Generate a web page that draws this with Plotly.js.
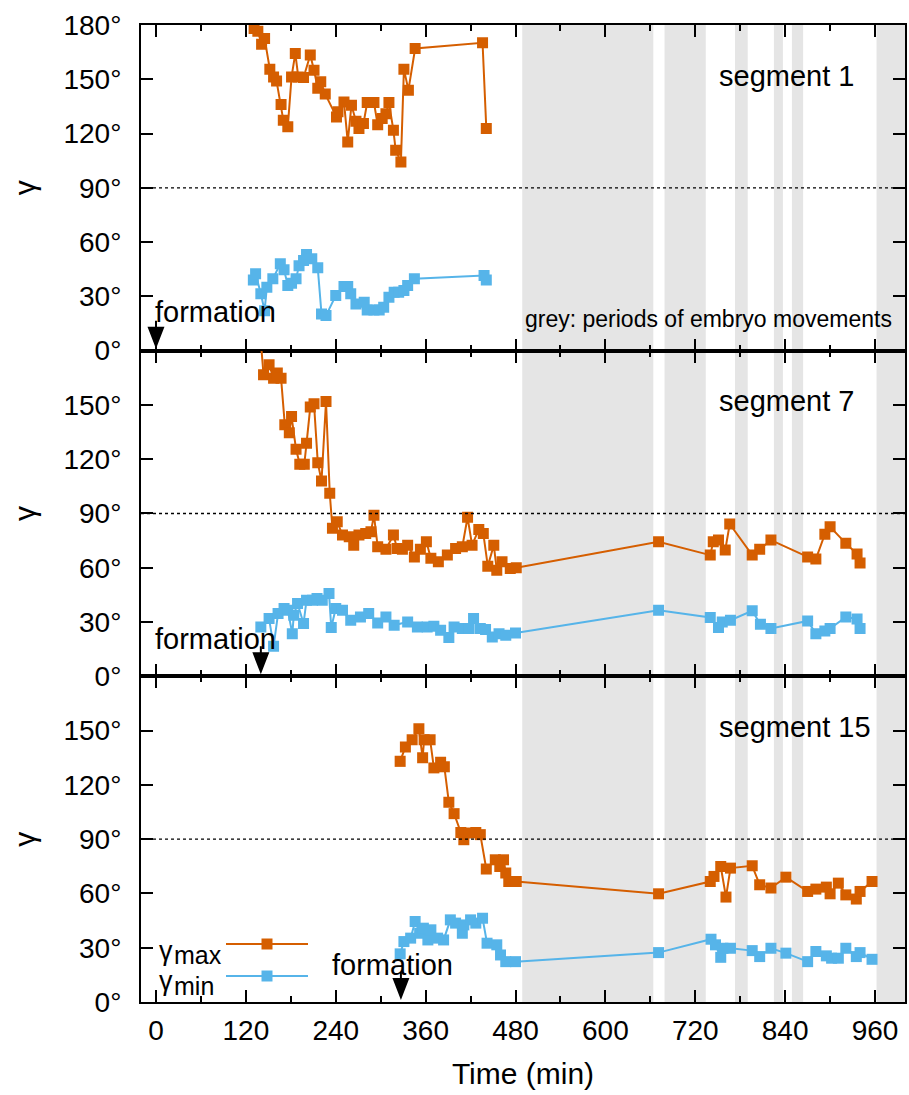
<!DOCTYPE html>
<html>
<head>
<meta charset="utf-8">
<script src="https://cdn.plot.ly/plotly-3.0.1.min.js"></script>
<style>body{margin:0;background:#fff}</style>
</head>
<body>
<div id="chart" style="width:909px;height:1095px"></div>
<script>
// ---- data (time in min, angle in degrees) ----
const seg1MaxT = [131,136,141,145,152,157,161,167,170,176,181,186,190,197,206,211,216,220,226,241,243,251,256,261,267,271,277,282,291,296,302,307,311,317,320,327,331,337,346,436,441];
const seg1MaxV = [178,176.6,169.4,172.6,155.6,151.3,149,136,127.4,123.7,151.3,164.3,151.3,151,163.4,155,145,148.6,141.8,129.2,132,137.5,115.4,135.7,126.8,122.8,125.5,137.1,137.1,124.8,128.3,131,137.1,121.8,110.8,104.3,155.6,144,167,170.2,122.8];
const seg1MinT = [130,133,140,145,148,156,166,171,176,181,187,191,197,201,208,216,221,227,240,251,256,260,267,278,282,291,298,304,311,318,324,331,336,345,438,441];
const seg1MinV = [39.1,42.5,31.4,22.1,35,39.7,48,44.7,36,37.3,39.7,47,49.8,53.2,50.8,45.8,20.3,19.4,30.5,35.4,35.4,31.4,25.8,26.7,22.5,22.5,22.5,24,29.5,32.3,32.3,33.2,36,39.7,41.5,39.1];

const seg7MaxT = [137,143.6,151,157,162,167,172,178,181,187,192,198,201,206,211,216,221,227,232,235.6,242,249,258,264,271,280,287,291,296,307,317,322,329,336,345,353,361,367,377,389,400,409,416,422,431,437,443,451,455,462,473,481,671,740,744,751,760,766,796,806,821,870,881,893,900,921,936,940];
const seg7MaxV = [200,166.7,172.2,164.8,167.6,164.8,139,134.7,143.6,125.5,117.2,117.2,128.8,148.8,150.6,118.1,108,151.9,101.2,81.8,85.4,78.1,77.1,72.5,78.1,79,79.9,89.1,71.6,70.2,78.1,70.7,70.2,72.5,66,70.2,74.4,65.2,63.3,67,70.7,71.6,87.9,72.5,81.2,79,60.9,72.5,58.7,63.3,59.6,60,74.4,67,74.4,75.3,69.8,84.2,67,70.2,75.3,66,64.8,78.6,82.7,73.5,67.6,62.7];
const seg7MinT = [140,151,157,163,171,176,182,184,189,197,201,209,215,222,231,234,240,249,260,273,284,296,307,318,336,349,362,371,380,391,398,409,418,424,433,440,449,458,467,480,671,740,751,756,767,796,807,821,870,881,893,900,921,936,940];
const seg7MinV = [27.3,31.9,16.6,34.7,37.5,36.5,23.6,33.8,40.3,29.2,42.1,42.1,43,42.1,45.8,27,37.5,36.5,31,32.8,34.7,29.5,32.8,28.2,30.1,27.3,27.3,27.7,25.5,21.4,27.3,26.4,26.4,31.9,26.4,25.9,21.8,23.6,22.7,24,36.5,32.5,27,30.1,31,36.2,28.8,26.4,30.6,23.6,25.1,26.4,32.8,31.7,26.4];

const seg15MaxT = [326,333,342,351,356,358,366,371,380,385,391,398,407,411,418,427,433,441,453,459,464,467,471,481,671,740,745,754,761,767,796,806,821,841,870,881,895,900,911,921,935,940,956];
const seg15MaxV = [133,141,145,151,135,145,145,129.4,132.5,130,110.4,104.1,93.7,89.7,93.4,93.7,92.5,73.5,78.6,74.9,78.6,71.3,66.6,66.6,59.8,66.6,69.4,74.9,58,74,75.3,64.8,63,69,61.1,62.4,63.5,59.8,65.7,59.2,56.9,61.1,66.6];
const seg15MinT = [326,331,340,346,352,357,363,367,376,384,393,400,409,411,420,427,436,442,455,460,467,480,671,741,747,754,757,767,796,806,821,841,870,881,895,902,911,921,935,940,956];
const seg15MinV = [26.6,33.4,35.3,44.5,38,40.8,34.3,39.9,35.3,34.3,45.4,43.6,38,42.6,45.4,43.6,46.3,32.5,31.6,26,22.3,22.3,27.3,34.7,31.6,24.7,29.7,29.7,28.4,25.1,29.7,27,22.3,27.9,25.5,24.2,24.2,29.7,25.1,27.3,23.6];

const segmentNames = ['segment 1','segment 7','segment 15'];
const formationTimes = [0, 140, 327];
// periods of embryo movements (start, end) in min
const moveStart = [489, 679, 773, 825, 849, 962];
const moveEnd   = [664, 734, 790, 837, 864, 1000];

const yTickVals = [0,30,60,90,120,150,180];
const yTickTextTop = ['0°','30°','60°','90°','120°','150°','180°'];
const yTickTextLow = ['0°','30°','60°','90°','120°','150°',''];
const xTickVals = [0,120,240,360,480,600,720,840,960];

// ---- styling ----
const ORANGE = '#D55E00', BLUE = '#56B4E9';
const FONT = 'Liberation Sans, Arial, Helvetica, sans-serif';
const sets = [[seg1MaxT,seg1MaxV,seg1MinT,seg1MinV],[seg7MaxT,seg7MaxV,seg7MinT,seg7MinV],[seg15MaxT,seg15MaxV,seg15MinT,seg15MinV]];

const traces = [];
sets.forEach((s,i)=>{
  const xa = i===0?'x':'x'+(i+1), ya = i===0?'y':'y'+(i+1);
  traces.push({x:s[0],y:s[1],xaxis:xa,yaxis:ya,mode:'lines+markers',name:'γmax',showlegend:false,
    line:{color:ORANGE,width:2},marker:{symbol:'square',size:11,color:ORANGE}});
  traces.push({x:s[2],y:s[3],xaxis:xa,yaxis:ya,mode:'lines+markers',name:'γmin',showlegend:false,
    line:{color:BLUE,width:2},marker:{symbol:'square',size:11,color:BLUE}});
});

// label placement (pixel positions converted to fractions of the plot area)
const PL = 141, PW = 764, PB = 1002, PH = 977;
const px = v => (v - PL) / PW;
const py = v => (PB - v) / PH;
const formationLabelPx = [[215,312],[215,639],[392,965]];

const domains = [[2/3,1],[1/3,2/3],[0,1/3]];
const layout = {
  width:909,height:1095,
  margin:{l:141,r:4,t:25,b:93},
  paper_bgcolor:'#fff',plot_bgcolor:'rgba(0,0,0,0)',
  font:{family:FONT,size:28,color:'#000'},
  showlegend:false,
  shapes:[],annotations:[]
};
for(let i=0;i<3;i++){
  const sfx = i===0?'':(i+1);
  layout['xaxis'+sfx] = {
    anchor:'y'+sfx, domain:[0,1], range:[-20,1000], showgrid:false, zeroline:false,
    tickvals:xTickVals, ticks:'inside', ticklen:12, tickwidth:2, tickcolor:'#000',
    minor:{dtick:60,tick0:0,ticks:'inside',ticklen:6,tickwidth:2,tickcolor:'#000',showgrid:false},
    showline:true, linewidth:2, linecolor:'#000', mirror:'allticks',
    showticklabels:i===2, tickfont:{family:FONT,size:28}, ticklabelstandoff:2,
    title: i===2?{text:'Time (min)',font:{family:FONT,size:30},standoff:18}:{text:''}
  };
  layout['yaxis'+sfx] = {
    anchor:'x'+sfx, domain:domains[i], range:[0,180], showgrid:false, zeroline:false,
    tickvals:yTickVals, ticktext:i===0?yTickTextTop:yTickTextLow,
    ticks:'inside', ticklen:12, tickwidth:2, tickcolor:'#000', ticklabelstandoff:12,
    showline:true, linewidth:2, linecolor:'#000', mirror:'allticks',
    tickfont:{family:FONT,size:28},
    title:{text:'γ',font:{family:FONT,size:30},standoff:19}
  };
  // dotted 90° line
  layout.shapes.push({type:'line',xref:'x'+sfx+' domain',x0:0,x1:1,yref:'y'+sfx,y0:90,y1:90,
    line:{color:'#000',width:1.3,dash:'dot'},layer:'above'});
  layout.annotations.push({xref:'x'+sfx,yref:'y'+sfx,x:749,y:152,xanchor:'left',yanchor:'middle',text:segmentNames[i],
    showarrow:false,font:{family:FONT,size:29}});
  layout.annotations.push({xref:'paper',yref:'paper',x:px(formationLabelPx[i][0]),y:py(formationLabelPx[i][1]),
    xanchor:'center',yanchor:'middle',text:'formation',showarrow:false,font:{family:FONT,size:29}});
  // formation arrow: filled triangle with short stem, tip just above 0°
  layout.shapes.push({type:'path',xref:'x'+sfx,yref:'y'+sfx,xsizemode:'pixel',ysizemode:'pixel',
    xanchor:formationTimes[i],yanchor:0,
    path:'M-8.5,24 L8.5,24 L0,2 Z M-1,24 L1,24 L1,30 L-1,30 Z',
    fillcolor:'#000',line:{width:0},layer:'above'});
}
moveStart.forEach((s,k)=>{
  layout.shapes.push({type:'rect',xref:'x',yref:'paper',x0:s,x1:moveEnd[k],y0:0,y1:1,
    fillcolor:'#E5E5E5',line:{width:0},layer:'below'});
});
layout.annotations.push({xref:'x',yref:'y',x:490,y:17.5,xanchor:'left',yanchor:'middle',text:'grey: periods of embryo movements',
  showarrow:false,font:{family:FONT,size:23}});
// manual legend (text left, symbol right)
[['max',951,955],['min',981,986]].forEach(([sub,gy,sy])=>{
  layout.annotations.push({xref:'paper',yref:'paper',x:px(157),y:py(gy),xanchor:'left',yanchor:'middle',
    text:'γ',showarrow:false,font:{family:FONT,size:27}});
  layout.annotations.push({xref:'paper',yref:'paper',x:px(172),y:py(sy),xanchor:'left',yanchor:'middle',
    text:sub,showarrow:false,font:{family:FONT,size:25}});
});
[[944,ORANGE],[976,BLUE]].forEach(([yy,c])=>{
  layout.shapes.push({type:'line',xref:'paper',yref:'paper',x0:px(226),x1:px(308),y0:py(yy),y1:py(yy),line:{color:c,width:2}});
  layout.shapes.push({type:'rect',xref:'paper',yref:'paper',x0:px(261.5),x1:px(272.5),y0:py(yy+5.5),y1:py(yy-5.5),
    fillcolor:c,line:{width:0}});
});

Plotly.newPlot('chart',traces,layout,{displayModeBar:false,staticPlot:true});
</script>
</body>
</html>
